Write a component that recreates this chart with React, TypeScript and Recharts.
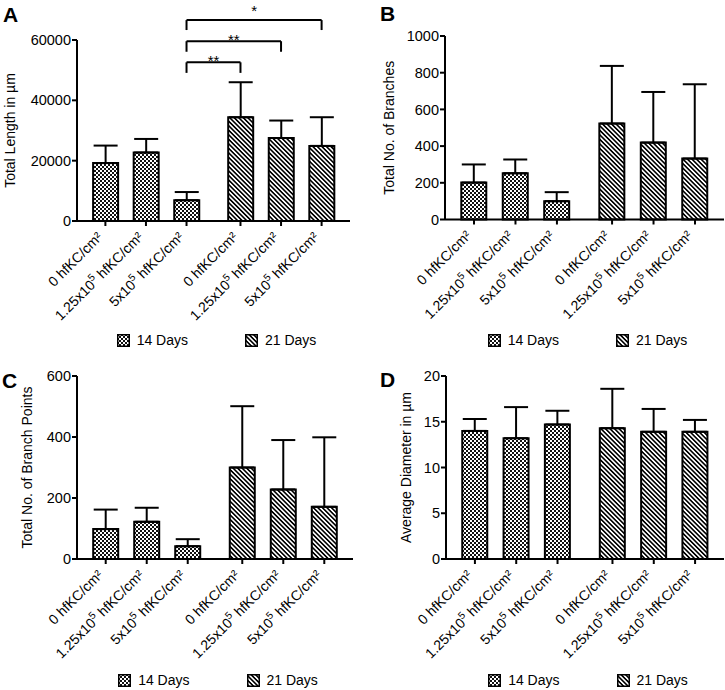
import { BarChart, Bar, XAxis, YAxis, Cell, ErrorBar, Legend, ReferenceLine } from 'recharts';

const FONT = '"Liberation Sans", Arial, Helvetica, sans-serif';
const FS = 14;

// categories
const doses = [
  '0 hfKC/cm²',
  '1.25x10^5 hfKC/cm²',
  '5x10^5 hfKC/cm²',
  '0 hfKC/cm²',
  '1.25x10^5 hfKC/cm²',
  '5x10^5 hfKC/cm²',
];
const groups = ['14 Days', '14 Days', '14 Days', '21 Days', '21 Days', '21 Days'];
const legendItems = ['14 Days', '21 Days'];

// A - total length (µm)
const lengthMean = [19200, 22700, 6900, 34400, 27500, 24900];
const lengthSd = [5800, 4500, 2700, 11600, 5800, 9500];
const lengthTicks = [0, 20000, 40000, 60000];
const lengthSig = [
  { from: 2, to: 3, y: 52600, drop: 3500, mark: '**' },
  { from: 2, to: 4, y: 59600, drop: 3500, mark: '**' },
  { from: 2, to: 5, y: 66600, drop: 3300, mark: '*' },
];

// B - branches
const branchMean = [201, 252, 100, 523, 419, 332];
const branchSd = [99, 75, 49, 314, 276, 405];
const branchTicks = [0, 200, 400, 600, 800, 1000];

// C - branch points
const pointMean = [98, 122, 42, 300, 228, 171];
const pointSd = [64, 46, 23, 201, 162, 228];
const pointTicks = [0, 200, 400, 600];

// D - diameter (µm)
const diamMean = [14.0, 13.2, 14.7, 14.3, 13.9, 13.9];
const diamSd = [1.3, 3.4, 1.5, 4.3, 2.5, 1.3];
const diamTicks = [0, 5, 10, 15, 20];

// layout: extra space between the two day groups, in slot units
const GROUP_GAP = 0.33;
const EDGE_PAD = 0.7;
const slot = (i: number) => i + (i >= 3 ? GROUP_GAP : 0);
const slots = doses.map((_, i) => slot(i));
const xDomain = [-EDGE_PAD, slot(doses.length - 1) + EDGE_PAD];

const fillFor: Record<string, string> = {
  '14 Days': 'url(#check)',
  '21 Days': 'url(#stripe)',
};

const DoseTick = (props: any) => {
  const { x, y, index } = props;
  const label = doses[index] ?? '';
  const parts = label.split('^');
  const pre = parts[0];
  const sup = parts.length > 1 ? parts[1].charAt(0) : '';
  const post = parts.length > 1 ? parts[1].slice(1) : '';
  return (
    <g transform={`translate(${x - 2},${y + 10})`}>
      <text transform="rotate(-45)" textAnchor="end" fontSize={FS} fill="#000" fontFamily={FONT}>
        <tspan>{pre}</tspan>
        {sup && (
          <tspan dy={-6} fontSize={10}>
            {sup}
          </tspan>
        )}
        {sup && <tspan dy={6}>{post}</tspan>}
      </text>
    </g>
  );
};

const renderLegend = () => (
  <div
    style={{
      display: 'flex',
      justifyContent: 'center',
      gap: 57,
      fontFamily: FONT,
      fontSize: FS,
      color: '#000',
      lineHeight: '18px',
    }}
  >
    {legendItems.map((name) => (
      <div key={name} style={{ display: 'flex', alignItems: 'center', gap: 7 }}>
        <svg width={13} height={13} style={{ display: 'block' }}>
          <rect x={0.75} y={0.75} width={11.5} height={11.5} fill={fillFor[name]} stroke="#000" strokeWidth={1.5} />
        </svg>
        <span>{name}</span>
      </div>
    ))}
  </div>
);

interface PanelProps {
  x0: number;
  y0: number;
  w: number;
  h: number;
  plot: { left: number; top: number; right: number; bottom: number };
  letter: string;
  letterX: number;
  letterY: number;
  title: string;
  titleX: number;
  ticks: number[];
  means: number[];
  sds: number[];
  legendY: number;
  sig?: { from: number; to: number; y: number; drop: number; mark: string }[];
}

function Panel({ x0, y0, w, h, plot, letter, letterX, letterY, title, titleX, ticks, means, sds, legendY, sig }: PanelProps) {
  const rows = doses.map((d, i) => ({
    pos: slots[i],
    dose: d,
    group: groups[i],
    mean: means[i],
    err: [0, sds[i]],
  }));
  const axisStroke = { stroke: '#000', strokeWidth: 2 };

  return (
    <div style={{ position: 'absolute', left: x0, top: y0, width: w, height: h }}>
      <BarChart
        width={w}
        height={h}
        data={rows}
        margin={{ top: plot.top, right: w - plot.right, bottom: 0, left: 0 }}
      >
        <XAxis
          type="number"
          dataKey="pos"
          domain={xDomain}
          ticks={slots}
          interval={0}
          height={h - plot.bottom}
          tickSize={5}
          axisLine={axisStroke}
          tickLine={axisStroke}
          tick={<DoseTick />}
        />
        <YAxis
          type="number"
          domain={[0, ticks[ticks.length - 1]]}
          ticks={ticks}
          interval={0}
          width={plot.left}
          tickSize={5}
          tickMargin={1}
          axisLine={axisStroke}
          tickLine={axisStroke}
          tick={{ fill: '#000', fontSize: 14.5, fontFamily: FONT }}
          label={{
            value: title,
            angle: -90,
            position: 'insideLeft',
            offset: titleX,
            fill: '#000',
            fontSize: FS,
            fontFamily: FONT,
            style: { textAnchor: 'middle' },
          }}
        />
        <Legend
          layout="horizontal"
          verticalAlign="middle"
          align="center"
          content={renderLegend}
          wrapperStyle={{ top: legendY - 9, left: plot.left + 3, width: plot.right - plot.left }}
        />
        <Bar dataKey="mean" barSize={25} stroke="#000" strokeWidth={2} isAnimationActive={false}>
          {rows.map((r, i) => (
            <Cell key={i} fill={fillFor[r.group]} />
          ))}
          <ErrorBar dataKey="err" direction="y" width={12} stroke="#000" strokeWidth={2} isAnimationActive={false} />
        </Bar>
        {(sig ?? []).map((s, k) => {
          const xa = slots[s.from];
          const xb = slots[s.to];
          const lift = s.mark === '*' ? 4.5 : -3.5;
          return [
            <ReferenceLine
              key={`l${k}`}
              segment={[{ x: xa, y: s.y - s.drop }, { x: xa, y: s.y }]}
              stroke="#000"
              strokeWidth={2}
              ifOverflow="visible"
            />,
            <ReferenceLine
              key={`t${k}`}
              segment={[{ x: xa, y: s.y }, { x: xb, y: s.y }]}
              stroke="#000"
              strokeWidth={2}
              ifOverflow="visible"
              label={{ value: s.mark, position: 'top', offset: lift, fill: '#000', fontSize: 15, fontFamily: FONT }}
            />,
            <ReferenceLine
              key={`r${k}`}
              segment={[{ x: xb, y: s.y - s.drop }, { x: xb, y: s.y }]}
              stroke="#000"
              strokeWidth={2}
              ifOverflow="visible"
            />,
          ];
        })}
      </BarChart>
      <svg width={40} height={60} style={{ position: 'absolute', left: 0, top: 0, pointerEvents: 'none' }}>
        <text x={letterX} y={letterY} fontSize={21} fontWeight="bold" fontFamily={FONT} fill="#000">
          {letter}
        </text>
      </svg>
    </div>
  );
}

export default function App() {
  return (
    <div style={{ position: 'absolute', left: 0, top: 0, width: 725, height: 690, background: '#fff', overflow: 'hidden' }}>
      <svg width={0} height={0} style={{ position: 'absolute' }}>
        <defs>
          <pattern id="check" patternUnits="userSpaceOnUse" width={4} height={4}>
            <rect x={0} y={0} width={4} height={4} fill="#fff" />
            <rect x={0} y={0} width={2} height={2} fill="#111" />
            <rect x={2} y={2} width={2} height={2} fill="#111" />
          </pattern>
          <pattern id="stripe" patternUnits="userSpaceOnUse" width={3.2} height={3.2} patternTransform="rotate(45)">
            <rect x={0} y={0} width={3.2} height={3.2} fill="#fff" />
            <rect x={0} y={0} width={3.2} height={1.6} fill="#000" />
          </pattern>
        </defs>
      </svg>
      <Panel
        x0={0}
        y0={0}
        w={362}
        h={338}
        plot={{ left: 77, top: 40, right: 350, bottom: 221 }}
        letter="A"
        letterX={3}
        letterY={22}
        title="Total Length in µm"
        titleX={10}
        ticks={lengthTicks}
        means={lengthMean}
        sds={lengthSd}
        legendY={340}
        sig={lengthSig}
      />
      <Panel
        x0={362}
        y0={0}
        w={363}
        h={338}
        plot={{ left: 83, top: 36, right: 362, bottom: 219.5 }}
        letter="B"
        letterX={18}
        letterY={21}
        title="Total No. of  Branches"
        titleX={27}
        ticks={branchTicks}
        means={branchMean}
        sds={branchSd}
        legendY={340}
      />
      <Panel
        x0={0}
        y0={338}
        w={362}
        h={352}
        plot={{ left: 77, top: 38, right: 353, bottom: 221 }}
        letter="C"
        letterX={2}
        letterY={50}
        title="Total  No. of Branch Points"
        titleX={27}
        ticks={pointTicks}
        means={pointMean}
        sds={pointSd}
        legendY={342}
      />
      <Panel
        x0={362}
        y0={338}
        w={363}
        h={352}
        plot={{ left: 84, top: 38, right: 362, bottom: 221 }}
        letter="D"
        letterX={18}
        letterY={49}
        title="Average Diameter in µm"
        titleX={44}
        ticks={diamTicks}
        means={diamMean}
        sds={diamSd}
        legendY={342}
      />
    </div>
  );
}
